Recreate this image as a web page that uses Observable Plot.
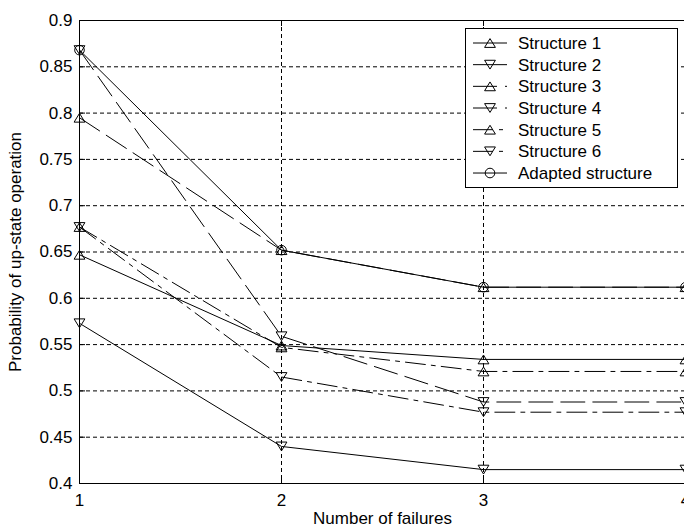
<!DOCTYPE html>
<html><head><meta charset="utf-8">
<script src="https://cdn.jsdelivr.net/npm/d3@7"></script>
<script src="https://cdn.jsdelivr.net/npm/@observablehq/plot@0.6"></script>
<style>html,body{margin:0;padding:0;background:#fff;overflow:hidden;}</style>
</head><body><div id="chart"></div>
<script>
// ---- data ----
const failures = [1, 2, 3, 4];
const structure1 = [0.647, 0.549, 0.534, 0.534];
const structure2 = [0.573, 0.440, 0.415, 0.415];
const structure3 = [0.795, 0.652, 0.612, 0.612];
const structure4 = [0.868, 0.559, 0.488, 0.488];
const structure5 = [0.677, 0.547, 0.521, 0.521];
const structure6 = [0.677, 0.515, 0.477, 0.477];
const adapted    = [0.868, 0.652, 0.612, 0.612];
const seriesNames = ["Structure 1", "Structure 2", "Structure 3", "Structure 4", "Structure 5", "Structure 6", "Adapted structure"];
const seriesValues = [structure1, structure2, structure3, structure4, structure5, structure6, adapted];
const seriesMarker = ["up", "down", "up", "down", "up", "down", "circle"];
const seriesStyle = ["solid", "solid", "dash", "dash", "dashdot", "dashdot", "solid"];
const yTicks = [0.4, 0.45, 0.5, 0.55, 0.6, 0.65, 0.7, 0.75, 0.8, 0.85, 0.9];
const xTicks = [1, 2, 3, 4];
const xLabel = "Number of failures";
const yLabel = "Probability of up-state operation";

// ---- styles ----
const dashes = {solid: null, dash: "24,8", dashdot: "20,6,4,6"};
const gridDash = "4,3";
const font = "'Liberation Sans', Arial, Helvetica, sans-serif";
const fs = 17;
const W = 684, H = 528;
const mL = 79, mT = 20, mB = 45, mR = -1;
const plotW = W - mL - mR, plotH = H - mT - mB;
const R = 4;

function triSymbol(dir) {
  return {
    draw(ctx, size) {
      const r = Math.sqrt(size / Math.PI);
      const hw = r * 1.35, hh = r * 1.1 * dir;
      ctx.moveTo(0, -hh);
      ctx.lineTo(hw, hh);
      ctx.lineTo(-hw, hh);
      ctx.closePath();
    }
  };
}
const symbols = {up: triSymbol(1), down: triSymbol(-1), circle: "circle"};
const radii = {up: R, down: R, circle: 4.8};

const rows = seriesNames.flatMap((name, i) =>
  failures.map((f, j) => ({series: name, idx: i, x: f, y: seriesValues[i][j]})));

const seriesMarks = seriesNames.map((name, i) => {
  const data = rows.filter(d => d.idx === i);
  return Plot.line(data, {x: "x", y: "y", stroke: "black", strokeWidth: 1,
      strokeDasharray: dashes[seriesStyle[i]] ?? undefined});
});
const dotMarks = seriesNames.map((name, i) => {
  const data = rows.filter(d => d.idx === i);
  return Plot.dot(data, {x: "x", y: "y", symbol: symbols[seriesMarker[i]], r: radii[seriesMarker[i]],
    fill: "none", stroke: "black", strokeWidth: 1});
});

const fmt = d => String(+d.toFixed(2));

const chart = Plot.plot({
  width: W, height: H,
  marginLeft: mL, marginTop: mT, marginBottom: mB, marginRight: mR,
  style: {fontFamily: font, fontSize: fs + "px", background: "white", color: "black", overflow: "hidden"},
  x: {domain: [1, 4], range: [mL, W - mR]},
  y: {domain: [0.4, 0.9], range: [H - mB, mT]},
  marks: [
    Plot.ruleY(yTicks.slice(1, -1), {y: d => d, stroke: "black", strokeWidth: 1, strokeDasharray: gridDash}),
    Plot.ruleX(xTicks.slice(1, -1), {x: d => d, stroke: "black", strokeWidth: 1, strokeDasharray: gridDash}),
    Plot.tickY(yTicks, {y: d => d, stroke: "black", insetRight: plotW - 6}),
    Plot.tickX(xTicks, {x: d => d, stroke: "black", insetTop: plotH - 6}),
    Plot.tickX(xTicks, {x: d => d, stroke: "black", insetBottom: plotH - 6}),
    ...seriesMarks,
    ...dotMarks,
    Plot.frame({stroke: "black", strokeWidth: 1}),
    Plot.axisY({ticks: yTicks, tickSize: 0, tickPadding: 7, tickFormat: fmt, label: null, fontSize: fs}),
    Plot.axisX({ticks: xTicks, tickSize: 0, tickPadding: 10, tickFormat: fmt, label: null, fontSize: fs}),
    Plot.text([xLabel], {text: d => d, frameAnchor: "bottom", dy: 35, lineAnchor: "middle", textAnchor: "middle", fontSize: fs, fill: "black"}),
    Plot.text([yLabel], {text: d => d, frameAnchor: "left", rotate: -90, dx: -63.5, lineAnchor: "middle", textAnchor: "middle", fontSize: fs, fill: "black"})
  ]
});
document.getElementById("chart").appendChild(chart);

// ---- legend (inset box) ----
const svg = d3.select(chart.tagName.toLowerCase() === "svg" ? chart : chart.querySelector("svg"));
const lg = svg.append("g").attr("class", "legend");
const bx0 = 465, by0 = 28, bx1 = 677, by1 = 187;
lg.append("rect").attr("x", bx0 + 0.5).attr("y", by0 + 0.5).attr("width", bx1 - bx0).attr("height", by1 - by0)
  .attr("fill", "white").attr("stroke", "black").attr("stroke-width", 1);
const rowH = 21.67, row0 = 43;
seriesNames.forEach((name, i) => {
  const cy = row0 + i * rowH;
  const g = lg.append("g");
  g.append("line").attr("x1", 473).attr("x2", 507).attr("y1", cy).attr("y2", cy)
    .attr("stroke", "black").attr("stroke-width", 1)
    .attr("stroke-dasharray", dashes[seriesStyle[i]]);
  const m = seriesMarker[i];
  const sym = m === "circle" ? d3.symbolCircle : symbols[m];
  const r = radii[m];
  g.append("path").attr("d", d3.symbol(sym, Math.PI * r * r)()).attr("transform", `translate(490,${cy})`)
    .attr("fill", "none").attr("stroke", "black").attr("stroke-width", 1);
  g.append("text").attr("x", 518).attr("y", cy).attr("dy", "0.35em")
    .attr("text-anchor", "start")
    .attr("font-family", font).attr("font-size", fs).attr("fill", "black").text(name);
});
</script>
</body></html>
